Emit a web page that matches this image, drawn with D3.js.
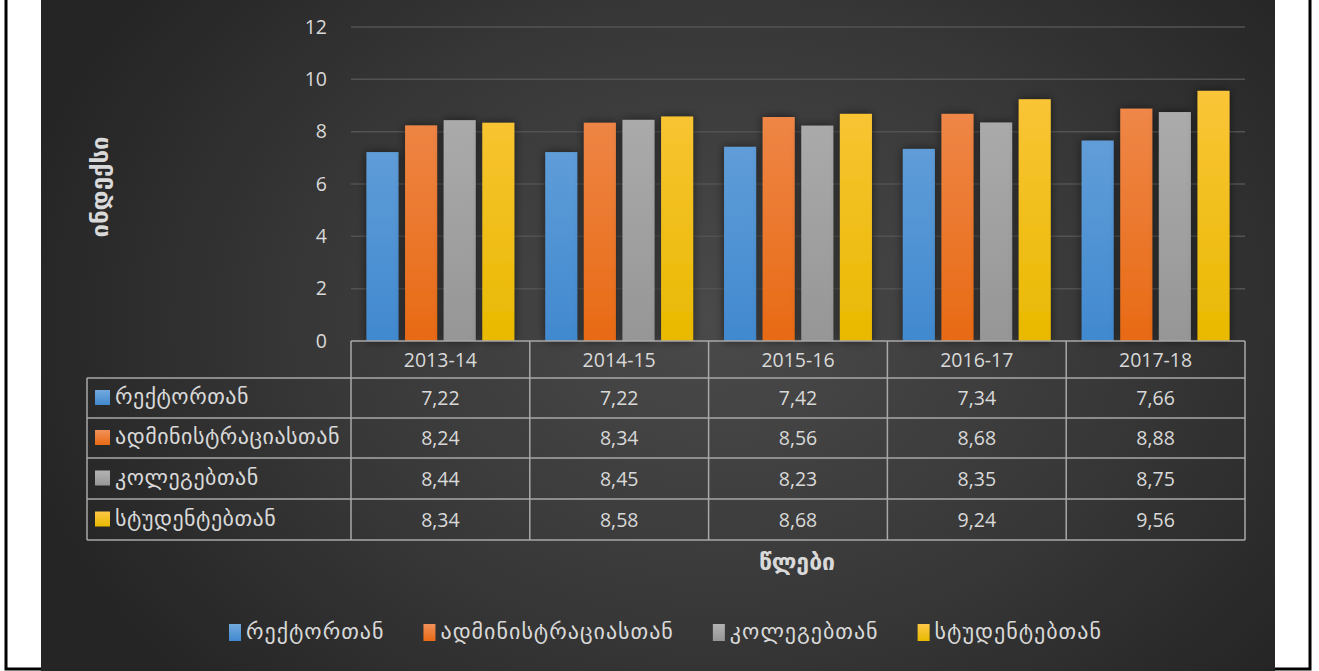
<!DOCTYPE html>
<html><head><meta charset="utf-8">
<script src="https://cdn.jsdelivr.net/npm/d3@7"></script>
<style>
html,body{margin:0;padding:0;background:#fff;}
svg{display:block;}
text{font-family:"Open Sans","DejaVu Sans",sans-serif;}
text.ka{font-family:"DejaVu Sans",sans-serif;}
text.ser{letter-spacing:1px;}
text.tab{letter-spacing:0.5px;}
</style></head>
<body>
<svg id="chart" width="1319" height="671"></svg>
<script>
const categories = ["2013-14","2014-15","2015-16","2016-17","2017-18"];
const seriesNames = ["რექტორთან","ადმინისტრაციასთან","კოლეგებთან","სტუდენტებთან"];
const rectorValues = [7.22,7.22,7.42,7.34,7.66];
const adminValues = [8.24,8.34,8.56,8.68,8.88];
const colleagueValues = [8.44,8.45,8.23,8.35,8.75];
const studentValues = [8.34,8.58,8.68,9.24,9.56];
const yTicks = [0,2,4,6,8,10,12];
const yTitle = "ინდექსი";
const xTitle = "წლები";

(function(){
const seriesValues = [rectorValues, adminValues, colleagueValues, studentValues];
const colorsTop = ["#72a9de","#f1915a","#b3b3b3","#ffc846"];
const colorsBot = ["#4189cf","#e86a14","#969696","#e8b900"];

const svg = d3.select("#chart");
const defs = svg.append("defs");

// page frame
svg.append("rect").attr("x",6).attr("y",-5).attr("width",1304).attr("height",674)
  .attr("fill","#fff").attr("stroke","#000").attr("stroke-width",3);

const bg = defs.append("radialGradient").attr("id","bg")
  .attr("gradientUnits","userSpaceOnUse").attr("cx",720).attr("cy",320).attr("r",720)
  .attr("gradientTransform","translate(720,320) scale(1,0.75) translate(-720,-320)");
bg.append("stop").attr("offset",0).attr("stop-color","#4a4a4a");
bg.append("stop").attr("offset",0.55).attr("stop-color","#383838");
bg.append("stop").attr("offset",1).attr("stop-color","#252525");
svg.append("rect").attr("x",41).attr("y",0).attr("width",1234).attr("height",671).attr("fill","url(#bg)");

seriesNames.forEach((s,i)=>{
  const g = defs.append("linearGradient").attr("id","g"+i).attr("x1",0).attr("y1",0).attr("x2",0).attr("y2",1);
  g.append("stop").attr("offset",0).attr("stop-color",colorsTop[i]);
  g.append("stop").attr("offset",1).attr("stop-color",colorsBot[i]);
  const gl = defs.append("linearGradient").attr("id","gl"+i).attr("gradientUnits","userSpaceOnUse")
    .attr("x1",0).attr("y1",27).attr("x2",0).attr("y2",341);
  gl.append("stop").attr("offset",0).attr("stop-color",colorsTop[i]);
  gl.append("stop").attr("offset",1).attr("stop-color",colorsBot[i]);
});
const sh = defs.append("filter").attr("id","shadow").attr("x","-40%").attr("y","-20%").attr("width","180%").attr("height","140%");
sh.append("feDropShadow").attr("dx",0).attr("dy",0).attr("stdDeviation",5).attr("flood-color","#000").attr("flood-opacity",0.55);

const pLeft = 351, pRight = 1245, pTop = 27, base = 341;
const x = d3.scaleBand().domain(categories).range([pLeft,pRight]).padding(0);
const xs = d3.scaleBand().domain(seriesNames).range([0,x.bandwidth()]).paddingInner(0.17).paddingOuter(0.4);
const y = d3.scaleLinear().domain([0,12]).range([base,pTop]);

const textCol = "#d9d9d9";
const numSize = "19.5px";
const kaSize = "22px";

// gridlines
svg.append("g").selectAll("line").data(yTicks.filter(t=>t>0)).join("line")
  .attr("x1",pLeft).attr("x2",pRight).attr("y1",d=>y(d)).attr("y2",d=>y(d))
  .attr("stroke","#535353").attr("stroke-width",1.5);

// y axis labels via d3 axis
const yAxis = svg.append("g").attr("transform",`translate(${pLeft-14},0)`)
  .call(d3.axisLeft(y).tickValues(yTicks).tickSize(0).tickPadding(10).tickFormat(d3.format("d")));
yAxis.select(".domain").remove();
yAxis.selectAll("text").attr("fill",textCol).style("font-size",numSize).attr("font-family","'Open Sans','DejaVu Sans',sans-serif");

// bars
seriesNames.forEach((s,i)=>{
  svg.append("g").selectAll("rect").data(categories).join("rect")
    .attr("x",(c)=>x(c)+xs(s)).attr("width",xs.bandwidth())
    .attr("y",(c,j)=>y(seriesValues[i][j])).attr("height",(c,j)=>base-y(seriesValues[i][j]))
    .attr("fill",`url(#gl${i})`).attr("filter","url(#shadow)");
});

// data table
const rowY = [341,378,418,458,499,540];
const tableLeft = 87;
const lineCol = "#a8a8a8";
const tg = svg.append("g");
tg.append("line").attr("x1",pLeft).attr("x2",pRight).attr("y1",rowY[0]).attr("y2",rowY[0]).attr("stroke",lineCol).attr("stroke-width",1.5);
for(let r=1;r<rowY.length;r++){
  tg.append("line").attr("x1",tableLeft).attr("x2",pRight).attr("y1",rowY[r]).attr("y2",rowY[r]).attr("stroke",lineCol).attr("stroke-width",1.5);
}
tg.append("line").attr("x1",tableLeft).attr("x2",tableLeft).attr("y1",rowY[1]).attr("y2",rowY[5]).attr("stroke",lineCol).attr("stroke-width",1.5);
categories.forEach(c=>{
  tg.append("line").attr("x1",x(c)).attr("x2",x(c)).attr("y1",rowY[0]).attr("y2",rowY[5]).attr("stroke",lineCol).attr("stroke-width",1.5);
});
tg.append("line").attr("x1",pRight).attr("x2",pRight).attr("y1",rowY[0]).attr("y2",rowY[5]).attr("stroke",lineCol).attr("stroke-width",1.5);

tg.selectAll("text.cat").data(categories).join("text").attr("class","cat")
  .attr("x",c=>x(c)+x.bandwidth()/2).attr("y",(rowY[0]+rowY[1])/2+7)
  .attr("text-anchor","middle").attr("fill",textCol).style("font-size",numSize).text(c=>c);

const fmt = v => d3.format(".2f")(v).replace(".",",");
seriesNames.forEach((s,i)=>{
  const cy = (rowY[i+1]+rowY[i+2])/2;
  tg.append("rect").attr("x",95).attr("y",cy-8).attr("width",15).attr("height",15).attr("fill",`url(#g${i})`);
  tg.append("text").attr("class","ka tab").attr("x",115).attr("y",cy+6).attr("fill",textCol).style("font-size",kaSize).text(s);
  tg.selectAll(null).data(categories).join("text")
    .attr("x",c=>x(c)+x.bandwidth()/2).attr("y",cy+7).attr("text-anchor","middle")
    .attr("fill",textCol).style("font-size",numSize).text((c,j)=>fmt(seriesValues[i][j]));
});

// axis titles
svg.append("text").attr("class","ka").attr("transform","translate(108,187) rotate(-90)").attr("text-anchor","middle")
  .attr("fill",textCol).style("font-size","24px").style("font-weight","bold").text(yTitle);
svg.append("text").attr("class","ka").attr("x",797).attr("y",570).attr("text-anchor","middle")
  .attr("fill",textCol).style("font-size","23px").style("font-weight","bold").text(xTitle);

// legend
const lg = svg.append("g");
let lx = 229;
seriesNames.forEach((s,i)=>{
  const g = lg.append("g").attr("transform",`translate(${lx},633)`);
  g.append("rect").attr("x",0).attr("y",-9).attr("width",12).attr("height",17).attr("fill",`url(#g${i})`);
  const t = g.append("text").attr("class","ka ser").attr("x",17).attr("y",6).attr("fill",textCol).style("font-size",kaSize).text(s);
  lx += 17 + t.node().getComputedTextLength() + 39;
});
})();
</script>
</body></html>
